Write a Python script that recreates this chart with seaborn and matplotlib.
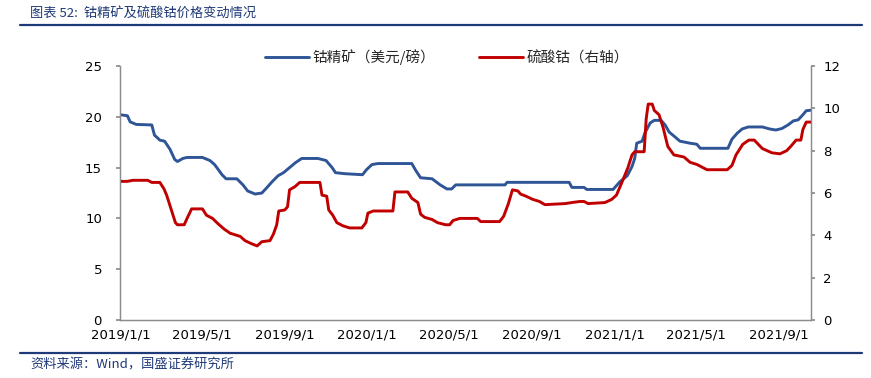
import pandas as pd
import matplotlib
matplotlib.use("Agg")
import matplotlib.pyplot as plt
import matplotlib.dates as mdates
from matplotlib.ticker import FuncFormatter
import seaborn as sns

# 钴精矿 (left axis), breakpoints
ore_dates = [
    "2019-01-01", "2019-01-11", "2019-01-15", "2019-01-24", "2019-02-16", "2019-02-20",
    "2019-02-28", "2019-03-07", "2019-03-15", "2019-03-22", "2019-03-26", "2019-04-03",
    "2019-04-09", "2019-05-02", "2019-05-13", "2019-05-20", "2019-05-31", "2019-06-06",
    "2019-06-22", "2019-07-01", "2019-07-08", "2019-07-19", "2019-07-29", "2019-08-05",
    "2019-08-13", "2019-08-22", "2019-08-30", "2019-09-08", "2019-09-17", "2019-09-26",
    "2019-10-20", "2019-11-01", "2019-11-10", "2019-11-15", "2019-11-29", "2019-12-25",
    "2019-12-31", "2020-01-08", "2020-01-17", "2020-03-07", "2020-03-13", "2020-03-20",
    "2020-04-06", "2020-04-18", "2020-04-28", "2020-05-05", "2020-05-11", "2020-07-23",
    "2020-07-26", "2020-10-26", "2020-10-30", "2020-11-17", "2020-11-21", "2020-12-30",
    "2021-01-09", "2021-01-20", "2021-01-27", "2021-01-31", "2021-02-03", "2021-02-11",
    "2021-02-15", "2021-02-23", "2021-03-01", "2021-03-11", "2021-03-17", "2021-03-23",
    "2021-04-01", "2021-04-08", "2021-04-23", "2021-05-03", "2021-05-08", "2021-06-18",
    "2021-06-24", "2021-07-02", "2021-07-09", "2021-07-18", "2021-08-08", "2021-08-19",
    "2021-08-28", "2021-09-06", "2021-09-15", "2021-09-23", "2021-09-30", "2021-10-07",
    "2021-10-12", "2021-10-19",
]
ore_values = [
    20.2, 20.1, 19.5, 19.25, 19.2, 18.2,
    17.7, 17.6, 16.8, 15.8, 15.6, 15.9,
    16.0, 16.0, 15.7, 15.3, 14.3, 13.9,
    13.9, 13.3, 12.7, 12.4, 12.5, 13.0,
    13.6, 14.2, 14.5, 15.0, 15.5, 15.9,
    15.9, 15.7, 15.0, 14.5, 14.4, 14.3,
    14.8, 15.3, 15.4, 15.4, 14.7, 14.0,
    13.9, 13.3, 12.9, 12.9, 13.3, 13.3,
    13.55, 13.55, 13.05, 13.05, 12.85, 12.85,
    13.6, 14.2, 15.1, 15.9, 17.4, 17.6,
    18.4, 19.4, 19.65, 19.65, 19.2, 18.5,
    18.0, 17.6, 17.4, 17.3, 16.9, 16.9,
    17.8, 18.4, 18.8, 19.0, 19.0, 18.8,
    18.7, 18.85, 19.2, 19.6, 19.7, 20.2,
    20.6, 20.65,
]

# 硫酸钴 (right axis)
sulfate_dates = [
    "2019-01-01", "2019-01-11", "2019-01-19", "2019-02-10", "2019-02-16", "2019-02-28",
    "2019-03-06", "2019-03-10", "2019-03-15", "2019-03-19", "2019-03-23", "2019-03-26",
    "2019-04-05", "2019-04-10", "2019-04-16", "2019-05-02", "2019-05-08", "2019-05-17",
    "2019-05-25", "2019-06-03", "2019-06-12", "2019-06-27", "2019-07-04", "2019-07-14",
    "2019-07-22", "2019-07-29", "2019-08-10", "2019-08-15", "2019-08-20", "2019-08-23",
    "2019-09-01", "2019-09-05", "2019-09-08", "2019-09-16", "2019-09-23", "2019-10-23",
    "2019-10-26", "2019-11-02", "2019-11-05", "2019-11-11", "2019-11-17", "2019-11-26",
    "2019-12-06", "2019-12-24", "2019-12-30", "2020-01-02", "2020-01-10", "2020-02-08",
    "2020-02-11", "2020-03-01", "2020-03-07", "2020-03-16", "2020-03-20", "2020-03-26",
    "2020-04-06", "2020-04-14", "2020-04-26", "2020-05-02", "2020-05-07", "2020-05-17",
    "2020-06-12", "2020-06-17", "2020-07-15", "2020-07-21", "2020-07-28", "2020-08-03",
    "2020-08-11", "2020-08-15", "2020-08-23", "2020-09-02", "2020-09-12", "2020-09-20",
    "2020-10-20", "2020-10-30", "2020-11-11", "2020-11-17", "2020-11-23", "2020-12-18",
    "2020-12-28", "2021-01-04", "2021-01-12", "2021-01-21", "2021-01-27", "2021-01-31",
    "2021-02-14", "2021-02-17", "2021-02-20", "2021-02-26", "2021-03-01", "2021-03-08",
    "2021-03-14", "2021-03-21", "2021-03-30", "2021-04-14", "2021-04-23", "2021-05-03",
    "2021-05-18", "2021-06-17", "2021-06-24", "2021-06-30", "2021-07-10", "2021-07-19",
    "2021-07-27", "2021-08-02", "2021-08-08", "2021-08-22", "2021-09-03", "2021-09-13",
    "2021-09-19", "2021-09-27", "2021-10-04", "2021-10-07", "2021-10-12", "2021-10-19",
]
sulfate_values = [
    6.55, 6.55, 6.6, 6.6, 6.5, 6.5,
    6.2, 5.9, 5.4, 5.0, 4.6, 4.5,
    4.5, 4.85, 5.25, 5.25, 4.95, 4.8,
    4.55, 4.3, 4.1, 3.95, 3.75, 3.6,
    3.5, 3.7, 3.75, 4.05, 4.5, 5.15,
    5.2, 5.35, 6.15, 6.3, 6.5, 6.5,
    5.9, 5.85, 5.2, 4.95, 4.6, 4.45,
    4.35, 4.35, 4.6, 5.05, 5.15, 5.15,
    6.05, 6.05, 5.75, 5.55, 5.0, 4.85,
    4.75, 4.6, 4.5, 4.5, 4.7, 4.8,
    4.8, 4.65, 4.65, 4.9, 5.5, 6.15,
    6.1, 5.95, 5.85, 5.7, 5.6, 5.45,
    5.5, 5.55, 5.6, 5.6, 5.5, 5.55,
    5.7, 5.9, 6.5, 7.2, 7.8, 7.95,
    7.95, 9.5, 10.2, 10.2, 9.9, 9.7,
    9.1, 8.2, 7.8, 7.7, 7.45, 7.35,
    7.1, 7.1, 7.3, 7.8, 8.3, 8.5,
    8.5, 8.3, 8.1, 7.9, 7.85, 8.0,
    8.2, 8.5, 8.5, 9.0, 9.35, 9.35,
]

ore_label = "钴精矿（美元/磅）"
sulfate_label = "硫酸钴（右轴）"
title_text = "图表 52:  钴精矿及硫酸钴价格变动情况"
source_text = "资料来源：Wind，国盛证券研究所"

left_ticks = [0, 5, 10, 15, 20, 25]
right_ticks = [0, 2, 4, 6, 8, 10, 12]

BLUE = "#2F5597"
RED = "#C00000"
TITLE_BLUE = "#1F3A78"

sns.set_theme(style="white")
plt.rcParams["font.family"] = ["Noto Sans CJK SC", "DejaVu Sans"]

ore = pd.DataFrame({"date": pd.to_datetime(ore_dates), "value": ore_values})
sulfate = pd.DataFrame({"date": pd.to_datetime(sulfate_dates), "value": sulfate_values})

fig = plt.figure(figsize=(8.71, 3.78), dpi=100)
ax = fig.add_axes([0.1378, 0.1534, 0.7933, 0.672])
ax2 = ax.twinx()

sns.lineplot(data=ore, x="date", y="value", ax=ax, color=BLUE, linewidth=2.1, label=ore_label, legend=False)
sns.lineplot(data=sulfate, x="date", y="value", ax=ax2, color=RED, linewidth=2.1, label=sulfate_label, legend=False)

ax.set_xlim(pd.Timestamp("2018-12-31"), pd.Timestamp("2021-10-19"))
ax.set_ylim(0, 25)
ax2.set_ylim(0, 12)
ax.set_yticks(left_ticks)
ax2.set_yticks(right_ticks)
ax.set_xlabel("")
ax.set_ylabel("")
ax2.set_ylabel("")

ax.xaxis.set_major_locator(mdates.MonthLocator(bymonth=[1, 5, 9], bymonthday=1))
ax.xaxis.set_major_formatter(FuncFormatter(lambda v, p: "{0.year}/{0.month}/{0.day}".format(mdates.num2date(v))))

for a in (ax, ax2):
    a.spines["top"].set_visible(False)
    for side in ("left", "right", "bottom"):
        a.spines[side].set_color("#8C8C8C")
        a.spines[side].set_linewidth(0.9)
ax.tick_params(axis="x", direction="in", length=4, color="#8C8C8C", pad=6, labelsize=9.5, labelcolor="black")
ax.tick_params(axis="y", direction="out", length=3, color="#8C8C8C", pad=10, labelsize=9.5, labelcolor="black")
ax2.tick_params(axis="y", direction="out", length=3, color="#8C8C8C", pad=6, labelsize=9.5, labelcolor="black")
for lbl in ax.get_xticklabels() + ax.get_yticklabels() + ax2.get_yticklabels():
    lbl.set_fontfamily("DejaVu Sans")

handles = ax.get_lines()[:1] + ax2.get_lines()[:1]
fig.legend(handles, [ore_label, sulfate_label], loc="center", bbox_to_anchor=(0.513, 0.848),
           ncol=2, frameon=False, fontsize=10.5, handlelength=3.0, columnspacing=3.0, handletextpad=0.25)

# title and source with rule lines
fig.text(0.035, 0.964, title_text, fontsize=9.5, color=TITLE_BLUE, style="italic", va="center", ha="left")
fig.add_artist(plt.Line2D([0.023, 0.99], [0.934, 0.934], color=TITLE_BLUE, linewidth=1.6))
fig.add_artist(plt.Line2D([0.023, 0.99], [0.066, 0.066], color=TITLE_BLUE, linewidth=1.6))
fig.text(0.035, 0.035, source_text, fontsize=9.5, color=TITLE_BLUE, style="italic", va="center", ha="left")

fig.savefig("out.png", dpi=100)
